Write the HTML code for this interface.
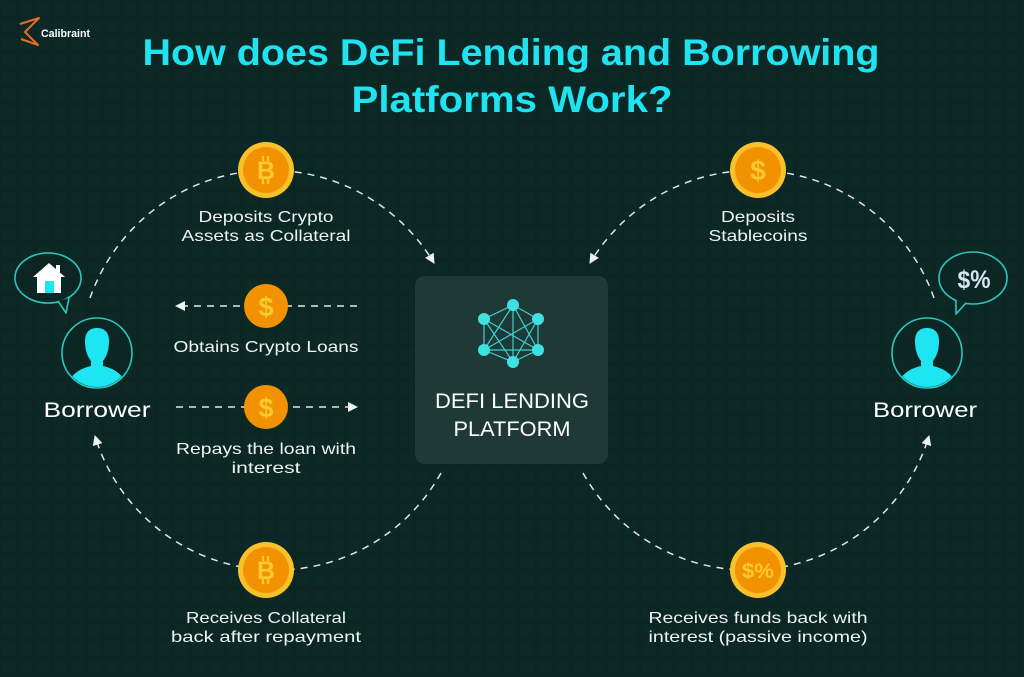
<!DOCTYPE html>
<html><head><meta charset="utf-8"><style>
html,body{margin:0;padding:0;background:#0b2623;}
svg{display:block;}
text{font-family:"Liberation Sans",sans-serif;}
</style></head><body>
<svg width="1024" height="677" viewBox="0 0 1024 677" xmlns="http://www.w3.org/2000/svg">
<defs>
<pattern id="grid" width="17.3" height="17.3" patternUnits="userSpaceOnUse">
<rect x="2" y="2" width="13" height="13" rx="2" fill="#0d2926"/>
</pattern>
<marker id="ah" viewBox="0 0 10 10" refX="9" refY="5" markerWidth="10" markerHeight="10" markerUnits="userSpaceOnUse" orient="auto">
<path d="M0,0 L10,5 L0,10 z" fill="#eef3f2"/>
</marker>
<clipPath id="cl"><circle cx="97" cy="353" r="34"/></clipPath>
<clipPath id="cr"><circle cx="927" cy="353" r="34"/></clipPath>
</defs>
<rect width="1024" height="677" fill="#0b2623"/>
<rect width="1024" height="677" fill="url(#grid)"/>

<!-- logo -->
<path d="M20,24 L39,18 L25,32 L38,45 L21,39" fill="none" stroke="#e8692d" stroke-width="2" stroke-linejoin="round"/>
<text x="41" y="37" font-size="11" font-weight="bold" fill="#ffffff" textLength="49" lengthAdjust="spacingAndGlyphs">Calibraint</text>

<!-- title -->
<text x="511" y="65" font-size="37" font-weight="bold" fill="#1fe3f0" text-anchor="middle" textLength="737" lengthAdjust="spacingAndGlyphs">How does DeFi Lending and Borrowing</text>
<text x="512" y="112" font-size="37" font-weight="bold" fill="#1fe3f0" text-anchor="middle" textLength="321" lengthAdjust="spacingAndGlyphs">Platforms Work?</text>

<!-- arcs -->
<g fill="none" stroke="#dfe7e5" stroke-width="1.5" stroke-dasharray="7 6">
<path d="M90,298 A191,191 0 0 1 434,263" marker-end="url(#ah)"/>
<path d="M934,298 A191,191 0 0 0 590,263" marker-end="url(#ah)"/>
<path d="M441,473 A189,189 0 0 1 95,436" marker-end="url(#ah)"/>
<path d="M583,473 A189,189 0 0 0 929,436" marker-end="url(#ah)"/>
<path d="M357,306 L176,306" marker-end="url(#ah)"/>
<path d="M176,407 L357,407" marker-end="url(#ah)"/>
</g>

<!-- coins -->
<g>
<circle cx="266" cy="170" r="28" fill="#fbc12d"/><circle cx="266" cy="170" r="23" fill="#f39200"/>
<text x="266" y="179" font-size="25" font-weight="bold" fill="#fcc830" text-anchor="middle">B</text>
<path d="M263,156 v5 M268,156 v5 M263,179 v5 M268,179 v5" stroke="#fcc830" stroke-width="2.2"/>

<circle cx="758" cy="170" r="28" fill="#fbc12d"/><circle cx="758" cy="170" r="23" fill="#f39200"/>
<text x="758" y="180" font-size="28" font-weight="bold" fill="#fcc830" text-anchor="middle">$</text>

<circle cx="266" cy="306" r="22" fill="#f39200"/>
<text x="266" y="316" font-size="27" font-weight="bold" fill="#fcc830" text-anchor="middle">$</text>
<circle cx="266" cy="407" r="22" fill="#f39200"/>
<text x="266" y="417" font-size="27" font-weight="bold" fill="#fcc830" text-anchor="middle">$</text>

<circle cx="266" cy="570" r="28" fill="#fbc12d"/><circle cx="266" cy="570" r="23" fill="#f39200"/>
<text x="266" y="579" font-size="25" font-weight="bold" fill="#fcc830" text-anchor="middle">B</text>
<path d="M263,556 v5 M268,556 v5 M263,579 v5 M268,579 v5" stroke="#fcc830" stroke-width="2.2"/>

<circle cx="758" cy="570" r="28" fill="#fbc12d"/><circle cx="758" cy="570" r="23" fill="#f39200"/>
<text x="758" y="578" font-size="21" font-weight="bold" fill="#fcc830" text-anchor="middle" textLength="32" lengthAdjust="spacingAndGlyphs">$%</text>
</g>

<!-- labels -->
<g fill="#eef3f2" font-size="16" text-anchor="middle">
<text x="266" y="222" textLength="135" lengthAdjust="spacingAndGlyphs">Deposits Crypto</text>
<text x="266" y="241" textLength="169" lengthAdjust="spacingAndGlyphs">Assets as Collateral</text>
<text x="758" y="222" textLength="74" lengthAdjust="spacingAndGlyphs">Deposits</text>
<text x="758" y="241" textLength="99" lengthAdjust="spacingAndGlyphs">Stablecoins</text>
<text x="266" y="352" textLength="185" lengthAdjust="spacingAndGlyphs">Obtains Crypto Loans</text>
<text x="266" y="454" textLength="180" lengthAdjust="spacingAndGlyphs">Repays the loan with</text>
<text x="266" y="473" textLength="69" lengthAdjust="spacingAndGlyphs">interest</text>
<text x="266" y="623" textLength="160" lengthAdjust="spacingAndGlyphs">Receives Collateral</text>
<text x="266" y="642" textLength="190" lengthAdjust="spacingAndGlyphs">back after repayment</text>
<text x="758" y="623" textLength="219" lengthAdjust="spacingAndGlyphs">Receives funds back with</text>
<text x="758" y="642" textLength="219" lengthAdjust="spacingAndGlyphs">interest (passive income)</text>
</g>

<!-- borrowers -->
<text x="97" y="417" font-size="21" fill="#ffffff" text-anchor="middle" textLength="107" lengthAdjust="spacingAndGlyphs">Borrower</text>
<text x="925" y="417" font-size="21" fill="#ffffff" text-anchor="middle" textLength="104" lengthAdjust="spacingAndGlyphs">Borrower</text>

<circle cx="97" cy="353" r="35" fill="#0b2623" stroke="#2cc6c0" stroke-width="1.6"/>
<g clip-path="url(#cl)">
<path d="M97,328 C89,328 85,333 85,341 C85,349 87,356 91,361 L91,366 C82,368 74,372 68,382 L68,395 L126,395 L126,382 C120,372 112,368 103,366 L103,361 C107,356 109,349 109,341 C109,333 105,328 97,328 Z" fill="#1ee5f2"/>
</g>
<circle cx="927" cy="353" r="35" fill="#0b2623" stroke="#2cc6c0" stroke-width="1.6"/>
<g clip-path="url(#cr)">
<path d="M927,328 C919,328 915,333 915,341 C915,349 917,356 921,361 L921,366 C912,368 904,372 898,382 L898,395 L956,395 L956,382 C950,372 942,368 933,366 L933,361 C937,356 939,349 939,341 C939,333 935,328 927,328 Z" fill="#1ee5f2"/>
</g>

<!-- speech bubbles -->
<ellipse cx="48" cy="278" rx="33" ry="25" fill="#0b2623" stroke="#2cc6c0" stroke-width="1.6"/>
<path d="M58,301 L66,313 L69,298" fill="#0b2623" stroke="#2cc6c0" stroke-width="1.6" stroke-linejoin="round"/>
<path d="M49,263 L33,277 L37,277 L37,293 L61,293 L61,277 L65,277 Z" fill="#ffffff"/>
<rect x="56" y="265" width="4" height="7" fill="#ffffff"/>
<rect x="45" y="281" width="9" height="12" fill="#1ee5f2"/>

<ellipse cx="973" cy="278" rx="34" ry="26" fill="#0b2623" stroke="#2cc6c0" stroke-width="1.6"/>
<path d="M966,303 L956,314 L956,300" fill="#0b2623" stroke="#2cc6c0" stroke-width="1.6" stroke-linejoin="round"/>
<text x="974" y="288" font-size="25" font-weight="bold" fill="#d6e6f0" text-anchor="middle" textLength="33" lengthAdjust="spacingAndGlyphs">$%</text>

<!-- platform box -->
<rect x="415" y="276" width="193" height="188" rx="10" fill="#1e3936"/>
<g stroke="#3dd0d0" stroke-width="1.2">
<line x1="513" y1="305" x2="538" y2="319"/><line x1="538" y1="319" x2="538" y2="350"/>
<line x1="538" y1="350" x2="513" y2="362"/><line x1="513" y1="362" x2="484" y2="350"/>
<line x1="484" y1="350" x2="484" y2="319"/><line x1="484" y1="319" x2="513" y2="305"/>
<line x1="513" y1="305" x2="513" y2="362"/><line x1="513" y1="305" x2="484" y2="350"/>
<line x1="513" y1="305" x2="538" y2="350"/><line x1="484" y1="319" x2="538" y2="350"/>
<line x1="538" y1="319" x2="484" y2="350"/><line x1="484" y1="350" x2="538" y2="350"/>
<line x1="484" y1="319" x2="513" y2="362"/><line x1="538" y1="319" x2="513" y2="362"/>
</g>
<g fill="#3ee0e0">
<circle cx="513" cy="305" r="6"/><circle cx="538" cy="319" r="6"/><circle cx="538" cy="350" r="6"/>
<circle cx="513" cy="362" r="6"/><circle cx="484" cy="350" r="6"/><circle cx="484" cy="319" r="6"/>
</g>
<text x="512" y="408" font-size="21" fill="#ffffff" text-anchor="middle" textLength="154" lengthAdjust="spacingAndGlyphs">DEFI LENDING</text>
<text x="512" y="436" font-size="21" fill="#ffffff" text-anchor="middle" textLength="117" lengthAdjust="spacingAndGlyphs">PLATFORM</text>
</svg>
</body></html>
